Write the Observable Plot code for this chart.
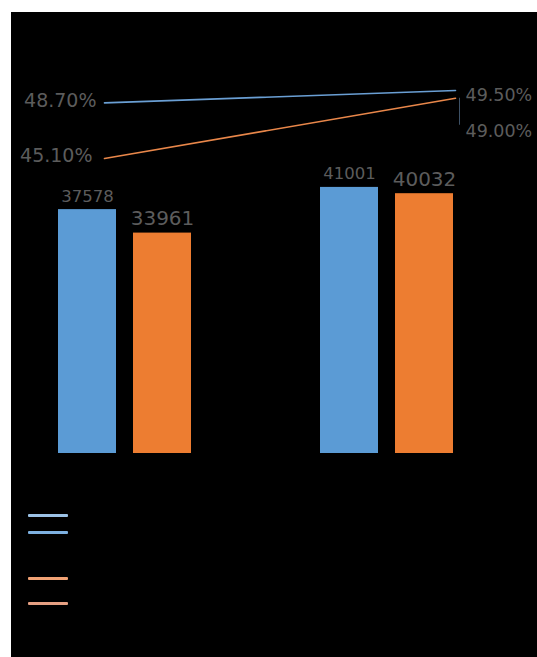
<!DOCTYPE html>
<html>
<head>
<meta charset="utf-8">
<script src="https://cdn.jsdelivr.net/npm/d3@7"></script>
<script src="https://cdn.jsdelivr.net/npm/@observablehq/plot@0.6"></script>
<style>
  html, body { margin: 0; padding: 0; background: #ffffff; overflow: hidden; }
  #frame { position: fixed; left: 11px; top: 12px; right: 0; bottom: 0; min-width: 526px; min-height: 645px; background: #000; overflow: hidden; }
  #frame svg { position: absolute; left: 0; top: 0; background: transparent; }
  .sw { position: absolute; left: 17px; width: 40px; height: 3px; border-radius: 1px; }
</style>
</head>
<body>
<div id="frame"></div>
<script>
// ---- data ----
const groups = ["G1", "G2"];
const series = ["A", "B"];
const barValues = { A: [37578, 41001], B: [33961, 40032] };
const pctValues = { A: [48.7, 49.5], B: [45.1, 49.0] };
const pctLabels = { A: ["48.70%", "49.50%"], B: ["45.10%", "49.00%"] };

const blue = "#5b9bd5", orange = "#ed7d31";
const labelColor = "#5c5c5c";
const font = "DejaVu Sans, sans-serif";

const bars = [];
for (const s of series) groups.forEach((g, i) => bars.push({ group: g, series: s, value: barValues[s][i] }));
const pts = [];
for (const s of series) groups.forEach((g, i) => pts.push({ group: g, series: s, pct: pctValues[s][i], label: pctLabels[s][i], idx: i }));

const W = 526, H = 645;
const frame = document.getElementById("frame");

// ---- bars ----
const barPlot = Plot.plot({
  width: W, height: H,
  marginLeft: 47, marginRight: 83, marginTop: 116.5, marginBottom: 204,
  style: { background: "transparent", fontFamily: font },
  fx: { domain: groups, paddingInner: 0.49, paddingOuter: 0, axis: null, label: null },
  x: { domain: series, paddingInner: 0.225, paddingOuter: 0, axis: null, label: null },
  y: { domain: [0, 50000], axis: null },
  color: { domain: series, range: [blue, orange] },
  marks: [
    Plot.barY(bars, { fx: "group", x: "series", y: "value", fill: "series" }),
    Plot.text(bars.filter(d => d.series === "A"), { fx: "group", x: "series", y: "value", text: d => String(d.value), lineAnchor: "bottom", dy: -8, fontSize: 16.5, fill: labelColor }),
    Plot.text(bars.filter(d => d.series === "B"), { fx: "group", x: "series", y: "value", text: d => String(d.value), lineAnchor: "bottom", dy: -8, fontSize: 20, fill: labelColor })
  ]
});
frame.appendChild(barPlot);

// ---- lines ----
const lineColor = { A: "#6a9fd4", B: "#e9874a" };
const linePlot = Plot.plot({
  width: W, height: H,
  marginLeft: 93, marginRight: 82, marginTop: 70.3, marginBottom: 420.2,
  style: { background: "transparent", fontFamily: font },
  x: { type: "point", domain: groups, padding: 0, axis: null },
  y: { domain: [40, 50], axis: null },
  marks: [
    Plot.line(pts.filter(d => d.series === "A"), { x: "group", y: "pct", stroke: lineColor.A, strokeWidth: 1.6 }),
    Plot.line(pts.filter(d => d.series === "B"), { x: "group", y: "pct", stroke: lineColor.B, strokeWidth: 1.6 }),
    Plot.ruleX(pts.filter(d => d.series === "B" && d.idx === 1), { x: "group", y1: "pct", y2: "pct", insetBottom: -27, dx: 4, stroke: "#3d5166", strokeWidth: 1 }),
    Plot.text(pts.filter(d => d.idx === 0 && d.series === "A"), { x: "group", y: "pct", text: "label", textAnchor: "end", dx: -8, dy: -1.5, fontSize: 19, fill: labelColor }),
    Plot.text(pts.filter(d => d.idx === 0 && d.series === "B"), { x: "group", y: "pct", text: "label", textAnchor: "end", dx: -12, dy: -2.5, fontSize: 19, fill: labelColor }),
    Plot.text(pts.filter(d => d.idx === 1 && d.series === "A"), { x: "group", y: "pct", text: "label", textAnchor: "start", dx: 10, dy: 5, fontSize: 17.5, fill: labelColor }),
    Plot.text(pts.filter(d => d.idx === 1 && d.series === "B"), { x: "group", y: "pct", text: "label", textAnchor: "start", dx: 10, dy: 33, fontSize: 17.5, fill: labelColor })
  ]
});
frame.appendChild(linePlot);

// ---- legend (swatches only; its text is black on black) ----
const legend = [
  { color: "#9cc2e6", top: 502 },
  { color: "#7db0e0", top: 519 },
  { color: "#f1a274", top: 565 },
  { color: "#e6a083", top: 590 }
];
for (const l of legend) {
  const d = document.createElement("div");
  d.className = "sw";
  d.style.top = l.top + "px";
  d.style.background = l.color;
  frame.appendChild(d);
}
</script>
</body>
</html>
